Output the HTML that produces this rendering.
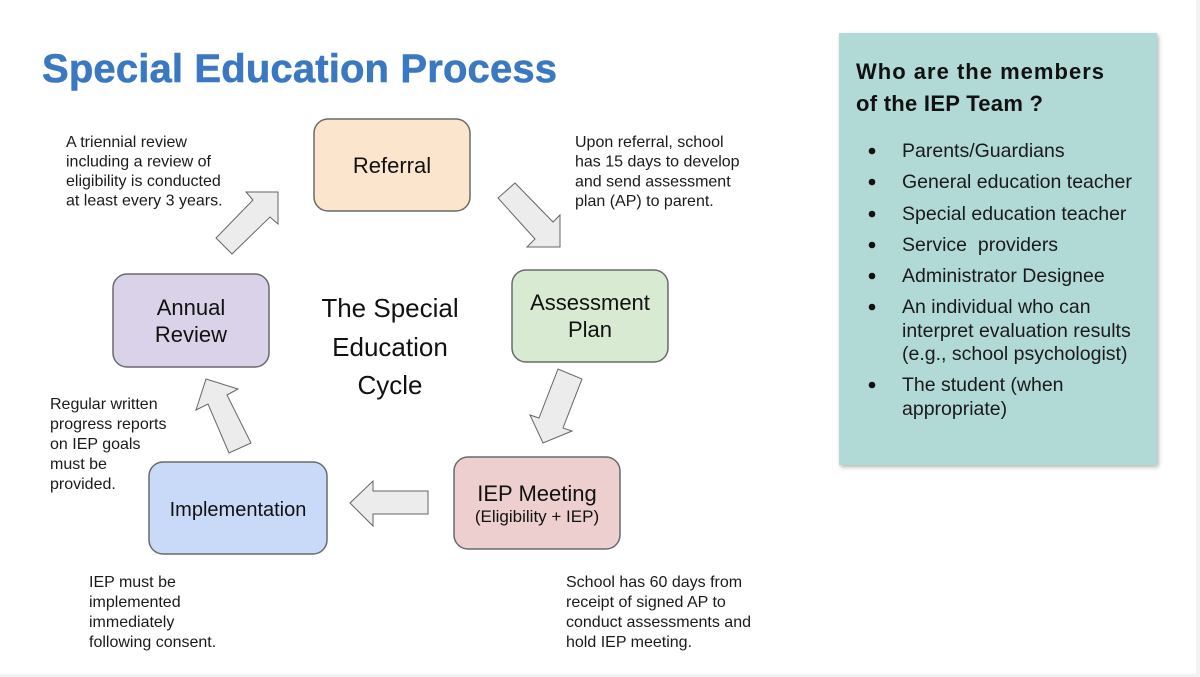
<!DOCTYPE html>
<html>
<head>
<meta charset="utf-8">
<style>
  html,body{margin:0;padding:0;background:#fff;}
  svg{display:block;}
  .b{font-family:"Liberation Sans",Arial,sans-serif;fill:#1a1a1a;font-size:16px;}
  .bx{font-family:"Liberation Sans",Arial,sans-serif;fill:#111;text-anchor:middle;}
  .li{font-family:"Liberation Sans",Arial,sans-serif;fill:#1a1a1a;font-size:19.5px;}
</style>
</head>
<body>
<svg width="1200" height="677" viewBox="0 0 1200 677" xmlns="http://www.w3.org/2000/svg">
  <defs>
    <filter id="sh" x="-10%" y="-10%" width="120%" height="120%">
      <feDropShadow dx="1.5" dy="2" stdDeviation="2" flood-color="#000" flood-opacity="0.3"/>
    </filter>
  </defs>
  <rect x="0" y="0" width="1200" height="677" fill="#ffffff"/>
  <rect x="1196" y="0" width="4" height="677" fill="#f2f2f2"/>
  <rect x="0" y="674" width="1200" height="3" fill="#f2f2f2"/>

  <!-- Title -->
  <text x="42" y="82" font-family="'Liberation Sans',Arial,sans-serif" font-weight="bold" font-size="40" fill="#3b78c2" stroke="#3b78c2" stroke-width="0.6" textLength="515" lengthAdjust="spacing">Special Education Process</text>

  <!-- Right panel -->
  <rect x="839" y="33" width="318" height="432" fill="#b1dad6" filter="url(#sh)"/>
  <text x="856" y="79" font-family="'Liberation Sans',Arial,sans-serif" font-weight="bold" font-size="22" fill="#111" textLength="248" lengthAdjust="spacing">Who are the members</text>
  <text x="856" y="111" font-family="'Liberation Sans',Arial,sans-serif" font-weight="bold" font-size="22" fill="#111" textLength="187" lengthAdjust="spacing">of the IEP Team ?</text>

  <g fill="#111">
    <circle cx="872" cy="151" r="3.3"/>
    <circle cx="872" cy="182" r="3.3"/>
    <circle cx="872" cy="214" r="3.3"/>
    <circle cx="872" cy="245" r="3.3"/>
    <circle cx="872" cy="276" r="3.3"/>
    <circle cx="872" cy="307" r="3.3"/>
    <circle cx="872" cy="385" r="3.3"/>
  </g>
  <text class="li" x="902" y="157">Parents/Guardians</text>
  <text class="li" x="902" y="188">General education teacher</text>
  <text class="li" x="902" y="220">Special education teacher</text>
  <text class="li" x="902" y="251" xml:space="preserve">Service  providers</text>
  <text class="li" x="902" y="282">Administrator Designee</text>
  <text class="li" x="902" y="313">An individual who can</text>
  <text class="li" x="902" y="337">interpret evaluation results</text>
  <text class="li" x="902" y="360">(e.g., school psychologist)</text>
  <text class="li" x="902" y="391">The student (when</text>
  <text class="li" x="902" y="415">appropriate)</text>

  <!-- Boxes -->
  <g stroke="#6a6a6a" stroke-width="1.5">
    <rect x="314" y="119" width="156" height="92" rx="14" fill="#fce5cd"/>
    <rect x="512" y="270" width="156" height="92" rx="14" fill="#d9ead3"/>
    <rect x="454" y="457" width="166" height="92" rx="14" fill="#edcfcf"/>
    <rect x="149" y="462" width="178" height="92" rx="14" fill="#c9daf8"/>
    <rect x="113" y="274" width="156" height="93" rx="14" fill="#d9d2e9"/>
  </g>

  <text class="bx" x="392" y="173" font-size="22">Referral</text>
  <text class="bx" x="590" y="310" font-size="22">Assessment</text>
  <text class="bx" x="590" y="337" font-size="22">Plan</text>
  <text class="bx" x="537" y="501" font-size="22">IEP Meeting</text>
  <text class="bx" x="537" y="522" font-size="17">(Eligibility + IEP)</text>
  <text class="bx" x="238" y="516" font-size="20">Implementation</text>
  <text class="bx" x="191" y="315" font-size="22">Annual</text>
  <text class="bx" x="191" y="342" font-size="22">Review</text>

  <text class="bx" x="390" y="317" font-size="26">The Special</text>
  <text class="bx" x="390" y="356" font-size="26">Education</text>
  <text class="bx" x="390" y="394" font-size="26">Cycle</text>

  <!-- Arrows -->
  <g fill="#ececec" stroke="#666" stroke-width="1" stroke-linejoin="miter">
    <polygon points="278,192 278,224 270,217 232,254 216,238 253,200 246,192"/>
    <polygon points="515,183 553,222 560,215 560,247 527,247 535,239 498,198"/>
    <polygon points="558,369 539,418 530,415 543,443 572,431 563,428 582,379"/>
    <polygon points="350,503 373,481 373,491 428,491 428,514 373,514 373,526"/>
    <polygon points="206,379 238,389 227,395 251,443 229,453 208,404 196,410"/>
  </g>

  <!-- Annotation texts -->
  <text class="b" x="66" y="147">A triennial review</text>
  <text class="b" x="66" y="166.5">including a review of</text>
  <text class="b" x="66" y="186">eligibility is conducted</text>
  <text class="b" x="66" y="205.5">at least every 3 years.</text>

  <text class="b" x="575" y="147">Upon referral, school</text>
  <text class="b" x="575" y="166.7">has 15 days to develop</text>
  <text class="b" x="575" y="186.4">and send assessment</text>
  <text class="b" x="575" y="206">plan (AP) to parent.</text>

  <text class="b" x="50" y="409">Regular written</text>
  <text class="b" x="50" y="429">progress reports</text>
  <text class="b" x="50" y="449">on IEP goals</text>
  <text class="b" x="50" y="469">must be</text>
  <text class="b" x="50" y="489">provided.</text>

  <text class="b" x="89" y="587">IEP must be</text>
  <text class="b" x="89" y="607">implemented</text>
  <text class="b" x="89" y="627">immediately</text>
  <text class="b" x="89" y="647">following consent.</text>

  <text class="b" x="566" y="587">School has 60 days from</text>
  <text class="b" x="566" y="607">receipt of signed AP to</text>
  <text class="b" x="566" y="627">conduct assessments and</text>
  <text class="b" x="566" y="647">hold IEP meeting.</text>
</svg>
</body>
</html>
